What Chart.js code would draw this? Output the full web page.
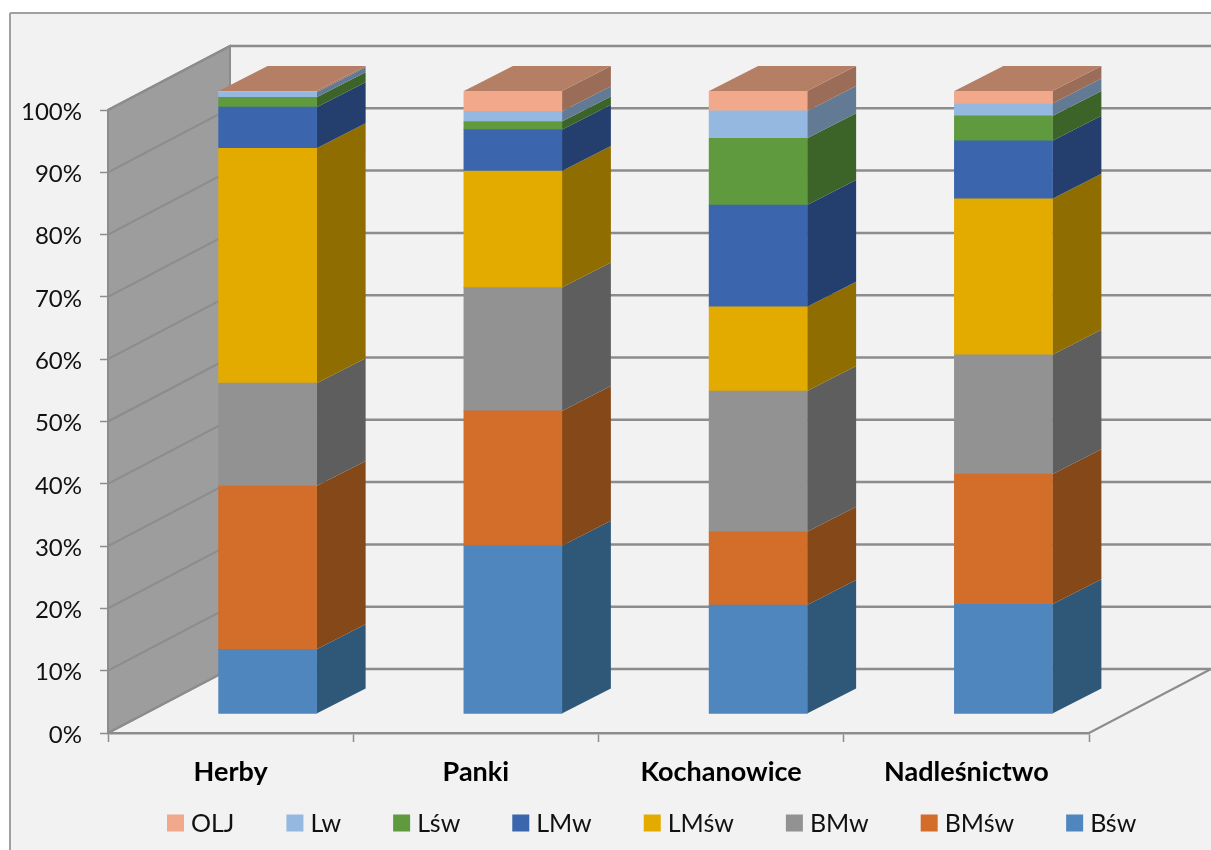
<!DOCTYPE html>
<html>
<head>
<meta charset="utf-8">
<style>
  html, body { margin: 0; padding: 0; background: #fff; }
  canvas { display: block; }
</style>
<script src="https://cdn.jsdelivr.net/npm/chart.js@4"></script>
</head>
<body>
<canvas id="forestChart" width="1211" height="850"></canvas>
<script>
const categories = ['Herby', 'Panki', 'Kochanowice', 'Nadleśnictwo'];
const yTicks = [0, 10, 20, 30, 40, 50, 60, 70, 80, 90, 100];

// percent share of each type, bottom of the stack first
const bsw = [10.4, 27.0, 17.5, 17.6];
const bmsw = [26.2, 21.65, 11.75, 20.9];
const bmw = [16.5, 19.8, 22.6, 19.15];
const lmsw = [37.7, 18.7, 13.5, 25.05];
const lmw = [6.6, 6.65, 16.35, 9.3];
const lsw = [1.6, 1.3, 10.7, 4.0];
const lw = [0.8, 1.65, 4.4, 2.0];
const olj = [0.2, 3.25, 3.2, 2.0];

const GRID = '#8c8c8c';
const TOP_FACE = '#b57f66';
const FONT = 'Lato, "Open Sans", sans-serif';

// depth of the walls and of the bars, and how far bars sit from the front
const WALL = { x: 122, y: 64 };
const BAR_SHIFT = { x: 37, y: 19 };
const BAR_DEPTH = { x: 49, y: 25 };

function poly(ctx, pts, fill, stroke, lw) {
  ctx.beginPath();
  pts.forEach((p, i) => i ? ctx.lineTo(p[0], p[1]) : ctx.moveTo(p[0], p[1]));
  ctx.closePath();
  if (fill) { ctx.fillStyle = fill; ctx.fill(); }
  if (stroke) { ctx.strokeStyle = stroke; ctx.lineWidth = lw; ctx.stroke(); }
}

function line(ctx, x1, y1, x2, y2, color, width) {
  ctx.beginPath();
  ctx.moveTo(x1, y1);
  ctx.lineTo(x2, y2);
  ctx.strokeStyle = color;
  ctx.lineWidth = width;
  ctx.stroke();
}

const wallsPlugin = {
  id: 'walls',
  beforeDraw(chart) {
    const ctx = chart.ctx;
    const area = chart.chartArea;
    const y = chart.scales.y;
    const y0 = y.getPixelForValue(0);
    const y100 = y.getPixelForValue(100);
    const backX = area.left + WALL.x;

    // Lato sits a little high compared to the reference font
    y.getLabelItems().forEach(item => { item.textOffset += 2; });

    ctx.save();
    ctx.fillStyle = '#fff';
    ctx.fillRect(0, 0, chart.width, chart.height);
    ctx.fillStyle = '#f2f2f2';
    ctx.fillRect(10, 13, chart.width, chart.height);
    line(ctx, 10, 13, chart.width, 13, '#a0a0a0', 2);
    line(ctx, 10, 13, 10, chart.height, '#a0a0a0', 2);

    poly(ctx, [[area.left, y100], [backX, y100 - WALL.y], [backX, y0 - WALL.y], [area.left, y0]], '#9d9d9d', GRID, 2);
    yTicks.forEach(v => {
      const py = y.getPixelForValue(v);
      line(ctx, area.left, py, backX, py - WALL.y, GRID, 2);
      line(ctx, backX, py - WALL.y, area.right + WALL.x, py - WALL.y, GRID, 2.5);
    });
    line(ctx, area.right, y0, area.right + WALL.x, y0 - WALL.y, GRID, 2);
    ctx.restore();
  },
  beforeDatasetsDraw(chart) {
    const ctx = chart.ctx;
    ctx.save();
    ctx.translate(BAR_SHIFT.x, -BAR_SHIFT.y);
    chart.data.datasets.forEach((ds, i) => {
      chart.getDatasetMeta(i).data.forEach(bar => {
        const r = bar.x + bar.width / 2;
        poly(ctx, [[r, bar.y], [r + BAR_DEPTH.x, bar.y - BAR_DEPTH.y],
          [r + BAR_DEPTH.x, bar.base - BAR_DEPTH.y], [r, bar.base]], ds.sideColor);
      });
    });
    const last = chart.data.datasets.length - 1;
    chart.getDatasetMeta(last).data.forEach(bar => {
      const l = bar.x - bar.width / 2;
      const r = bar.x + bar.width / 2;
      poly(ctx, [[l, bar.y], [r, bar.y], [r + BAR_DEPTH.x, bar.y - BAR_DEPTH.y],
        [l + BAR_DEPTH.x, bar.y - BAR_DEPTH.y]], TOP_FACE);
    });
    // the front faces are drawn by chart.js itself with this shift still on
  },
  afterDatasetsDraw(chart) {
    chart.ctx.restore();
  },
  afterDraw(chart) {
    // legend row: box, label, same gap between entries
    const ctx = chart.ctx;
    const rowY = 824;
    const box = 17;
    const gap = 7;
    const between = 52;
    let x = 167;
    ctx.save();
    ctx.font = '25px ' + FONT;
    ctx.textBaseline = 'middle';
    chart.data.datasets.slice().reverse().forEach(ds => {
      ctx.fillStyle = ds.backgroundColor;
      ctx.fillRect(x, rowY - 1 - box / 2, box, box);
      ctx.fillStyle = '#111';
      ctx.fillText(ds.label, x + box + gap, rowY);
      x += box + gap + ctx.measureText(ds.label).width + between;
    });
    ctx.restore();
  }
};

new Chart(document.getElementById('forestChart'), {
  type: 'bar',
  data: {
    labels: categories,
    datasets: [
      { label: 'Bśw', data: bsw, backgroundColor: '#4f86bd', sideColor: '#2f5878' },
      { label: 'BMśw', data: bmsw, backgroundColor: '#d26d2a', sideColor: '#854818' },
      { label: 'BMw', data: bmw, backgroundColor: '#929292', sideColor: '#5e5e5e' },
      { label: 'LMśw', data: lmsw, backgroundColor: '#e3aa00', sideColor: '#8f6d00' },
      { label: 'LMw', data: lmw, backgroundColor: '#3b66ae', sideColor: '#243f6e' },
      { label: 'Lśw', data: lsw, backgroundColor: '#5f9a3f', sideColor: '#3d6428' },
      { label: 'Lw', data: lw, backgroundColor: '#95b8e0', sideColor: '#627a94' },
      { label: 'OLJ', data: olj, backgroundColor: '#f2a88a', sideColor: '#9b6d58' }
    ]
  },
  options: {
    responsive: false,
    animation: false,
    barThickness: 98,
    layout: { autoPadding: false, padding: { top: 110, right: 122, left: 0, bottom: 0 } },
    plugins: { legend: { display: false }, tooltip: { enabled: false } },
    scales: {
      x: {
        stacked: true,
        afterFit(scale) { scale.height = 117; },
        border: { color: GRID, width: 2.5 },
        grid: { drawOnChartArea: false, color: GRID, tickColor: GRID, tickWidth: 1.5, tickLength: 9 },
        ticks: { color: '#000', padding: 14, maxRotation: 0, font: { family: FONT, size: 27, weight: 'bold' } }
      },
      y: {
        stacked: true,
        min: 0,
        max: 100,
        afterFit(scale) { scale.width = 108; },
        afterBuildTicks(scale) { scale.ticks = yTicks.map(v => ({ value: v })); },
        border: { color: GRID, width: 2 },
        grid: { drawOnChartArea: false, color: GRID, tickColor: GRID, tickWidth: 1.5, tickLength: 8 },
        ticks: { color: '#111', padding: 18, callback: v => v + '%', font: { family: FONT, size: 24 } }
      }
    }
  },
  plugins: [wallsPlugin]
});
</script>
</body>
</html>
